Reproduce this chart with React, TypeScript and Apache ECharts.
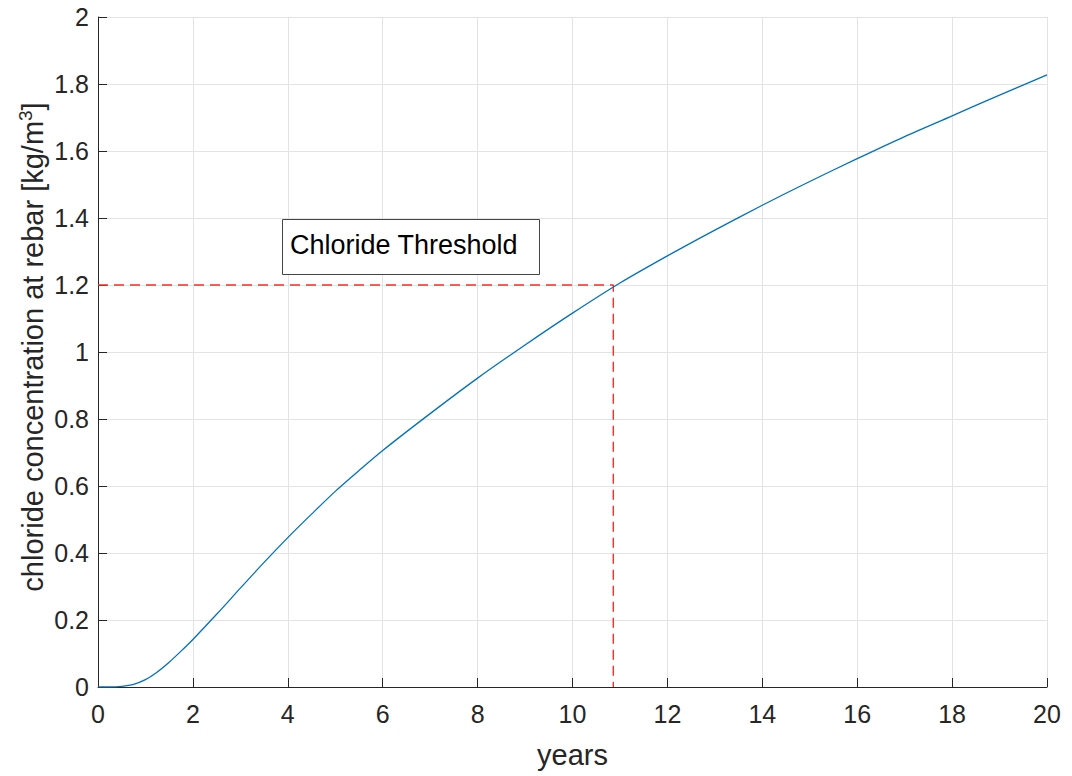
import React, { useEffect, useRef } from "react";
import * as echarts from "echarts";

// Chloride concentration at the rebar over time
const years: number[] = [0, 0.25, 0.5, 0.75, 1, 1.25, 1.5, 1.75, 2, 2.5, 3, 3.5, 4, 4.5, 5, 5.5, 6, 7, 8, 9, 10, 11, 12, 13, 14, 15, 16, 17, 18, 19, 20];
const chloride: number[] = [0, 0, 0.002, 0.008, 0.022, 0.045, 0.074, 0.107, 0.142, 0.217, 0.295, 0.372, 0.446, 0.516, 0.584, 0.646, 0.706, 0.816, 0.922, 1.021, 1.116, 1.206, 1.287, 1.364, 1.438, 1.509, 1.577, 1.643, 1.705, 1.767, 1.827];

// Threshold crossing
const thresholdValue = 1.2;
const thresholdYear = 10.86;

const xTicks = { min: 0, max: 20, interval: 2 };
const yTicks = { min: 0, max: 2, interval: 0.2 };

const FONT = "Liberation Sans, Arial, Helvetica, sans-serif";
const INK = "#262626";

export default function App() {
  const ref = useRef<HTMLDivElement>(null);

  useEffect(() => {
    if (!ref.current) return;
    const chart = echarts.init(ref.current, undefined, { renderer: "svg" });
    chart.setOption({
      animation: false,
      backgroundColor: "#ffffff",
      grid: { left: 98, right: 25, top: 17, bottom: 89, containLabel: false },
      xAxis: {
        type: "value",
        min: xTicks.min,
        max: xTicks.max,
        interval: xTicks.interval,
        name: "years",
        nameLocation: "middle",
        nameGap: 53,
        nameTextStyle: { fontFamily: FONT, fontSize: 29, color: INK },
        axisLine: { show: true, onZero: false, lineStyle: { color: INK, width: 1 } },
        axisTick: { show: true, inside: true, length: 9, lineStyle: { color: INK } },
        axisLabel: { fontFamily: FONT, fontSize: 25, color: INK, margin: 14 },
        splitLine: { show: true, lineStyle: { color: "#e3e3e3", width: 1 } },
      },
      yAxis: {
        type: "value",
        min: yTicks.min,
        max: yTicks.max,
        interval: yTicks.interval,
        axisLine: { show: true, onZero: false, lineStyle: { color: INK, width: 1 } },
        axisTick: { show: true, inside: true, length: 9, lineStyle: { color: INK } },
        axisLabel: {
          fontFamily: FONT,
          fontSize: 25,
          color: INK,
          margin: 9,
          formatter: (v: number) => String(Math.round(v * 10) / 10),
        },
        splitLine: { show: true, lineStyle: { color: "#e3e3e3", width: 1 } },
      },
      series: [
        {
          type: "line",
          data: years.map((t, i) => [t, chloride[i]]),
          smooth: 0.3,
          showSymbol: false,
          lineStyle: { color: "#0072BD", width: 1.3 },
          z: 3,
        },
        {
          type: "line",
          data: [
            [0, thresholdValue],
            [thresholdYear, thresholdValue],
            [thresholdYear, 0],
          ],
          showSymbol: false,
          lineStyle: { color: "#ff2a2a", width: 1.4, type: [10, 6] },
          z: 2,
        },
      ],
      graphic: [
        {
          type: "text",
          x: 33,
          y: 347,
          rotation: Math.PI / 2,
          style: {
            text: "chloride concentration at rebar [kg/m{sup|3}]",
            fontFamily: FONT,
            fontSize: 29,
            fill: INK,
            align: "center",
            verticalAlign: "middle",
            rich: {
              sup: { fontSize: 19, fontFamily: FONT, fill: INK, verticalAlign: "top", lineHeight: 34 },
            },
          },
        },
        {
          type: "rect",
          shape: { x: 282.5, y: 219.5, width: 257, height: 55 },
          style: { fill: "#ffffff", stroke: "#444444", lineWidth: 1 },
          z: 10,
        },
        {
          type: "text",
          x: 290,
          y: 245,
          style: {
            text: "Chloride Threshold",
            fontFamily: FONT,
            fontSize: 27,
            fill: "#000000",
            align: "left",
            verticalAlign: "middle",
          },
          z: 11,
        },
      ],
    });
    return () => chart.dispose();
  }, []);

  return (
    <div
      ref={ref}
      style={{ position: "fixed", left: 0, top: 0, width: 1072, height: 776, background: "#fff" }}
    />
  );
}
